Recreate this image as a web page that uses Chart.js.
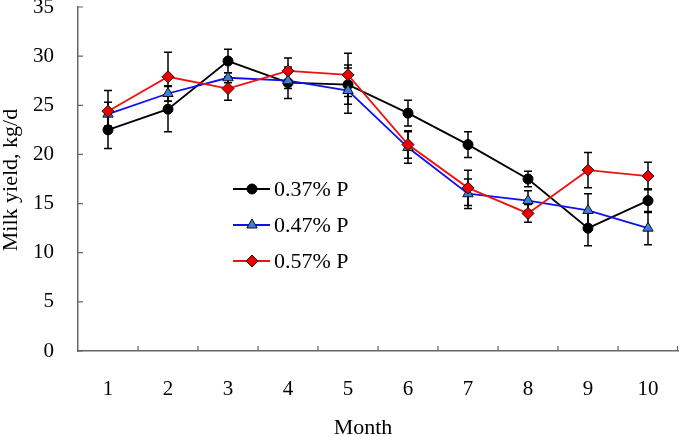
<!DOCTYPE html>
<html>
<head>
<meta charset="utf-8">
<script src="https://cdn.jsdelivr.net/npm/chart.js@4.4.0/dist/chart.umd.min.js"></script>
<style>
  html, body { margin: 0; padding: 0; background: #fff; }
  canvas { display: block; }
</style>
</head>
<body>
<canvas id="graphique" width="685" height="436"></canvas>
<script>
// Données
const mois = ['1', '2', '3', '4', '5', '6', '7', '8', '9', '10'];
const p037 = [22.5, 24.6, 29.5, 27.3, 27.1, 24.2, 21.0, 17.5, 12.5, 15.3];
const p047 = [24.1, 26.2, 27.8, 27.5, 26.5, 20.7, 16.0, 15.3, 14.3, 12.5];
const p057 = [24.4, 27.9, 26.7, 28.5, 28.1, 21.0, 16.6, 14.0, 18.4, 17.8];
const err037 = [1.9, 2.3, 1.2, 1.6, 2.0, 1.3, 1.3, 0.8, 1.8, 1.2];
const err047 = [1.2, 0.8, 0.5, 0.8, 2.3, 1.6, 1.5, 1.0, 1.7, 1.7];
const err057 = [2.1, 2.5, 1.2, 1.3, 2.2, 1.4, 1.8, 0.9, 1.8, 1.4];
const yTicks = [0, 5, 10, 15, 20, 25, 30, 35];

const police = 'Liberation Serif';
const couleurAxe = '#666666';

// Barres d'erreur, traits des axes et titres
const pluginFigure = {
  id: 'figure',
  beforeDatasetsDraw(chart) {
    const ctx = chart.ctx;
    const x = chart.scales.x;
    const y = chart.scales.y;
    const erreurs = [err037, err047, err057];
    ctx.save();
    ctx.strokeStyle = '#000';
    ctx.lineWidth = 1.5;
    chart.data.datasets.forEach(function(ds, k) {
      ds.data.forEach(function(v, i) {
        const px = x.getPixelForValue(i);
        const haut = y.getPixelForValue(v + erreurs[k][i]);
        const bas = y.getPixelForValue(v - erreurs[k][i]);
        ctx.beginPath();
        ctx.moveTo(px, haut); ctx.lineTo(px, bas);
        ctx.moveTo(px - 4, haut); ctx.lineTo(px + 4, haut);
        ctx.moveTo(px - 4, bas); ctx.lineTo(px + 4, bas);
        ctx.stroke();
      });
    });
    ctx.restore();
  },
  afterDraw(chart) {
    const ctx = chart.ctx;
    const x = chart.scales.x;
    const y = chart.scales.y;
    const zone = chart.chartArea;
    ctx.save();
    // petits traits vers l'intérieur
    ctx.strokeStyle = couleurAxe;
    ctx.lineWidth = 1.2;
    ctx.beginPath();
    yTicks.forEach(function(t) {
      const py = y.getPixelForValue(t);
      ctx.moveTo(zone.left, py); ctx.lineTo(zone.left + 5, py);
    });
    for (let i = 0; i < mois.length; i++) {
      const px = (i < mois.length - 1)
        ? (x.getPixelForValue(i) + x.getPixelForValue(i + 1)) / 2
        : zone.right - 0.5;
      ctx.moveTo(px, zone.bottom); ctx.lineTo(px, zone.bottom - 5);
    }
    ctx.stroke();

    // titres des axes
    ctx.fillStyle = '#000';
    ctx.font = '22px "' + police + '"';
    ctx.textAlign = 'center';
    ctx.textBaseline = 'middle';
    ctx.fillText('Month', 363, 428);
    ctx.translate(11, 180);
    ctx.rotate(-Math.PI / 2);
    ctx.fillText('Milk yield, kg/d', 0, 0);
    ctx.restore();

    // légende dans la zone du graphique
    ctx.save();
    const lignes = [189, 225, 261];
    chart.data.datasets.forEach(function(ds, k) {
      const ly = lignes[k];
      ctx.strokeStyle = ds.borderColor;
      ctx.lineWidth = 1.8;
      ctx.beginPath();
      ctx.moveTo(233, ly); ctx.lineTo(270, ly);
      ctx.stroke();
      ctx.fillStyle = ds.pointBackgroundColor;
      ctx.strokeStyle = ds.pointBorderColor;
      ctx.lineWidth = ds.pointBorderWidth;
      Chart.helpers.drawPoint(ctx, {
        pointStyle: ds.pointStyle,
        radius: ds.pointRadius,
        rotation: 0,
        borderWidth: ds.pointBorderWidth
      }, 252, ly);
      ctx.fillStyle = '#000';
      ctx.font = '22px "' + police + '"';
      ctx.textAlign = 'left';
      ctx.textBaseline = 'middle';
      ctx.fillText(ds.label, 274, ly + 1);
    });
    ctx.restore();
  }
};

const ctx = document.getElementById('graphique').getContext('2d');
const monGraphique = new Chart(ctx, {
  type: 'line',
  data: {
    labels: mois,
    datasets: [
      {
        label: '0.37% P',
        data: p037,
        borderColor: '#000000',
        borderWidth: 1.8,
        pointStyle: 'circle',
        pointRadius: 5,
        pointBackgroundColor: '#000000',
        pointBorderColor: '#000000',
        pointBorderWidth: 1,
        order: 3
      },
      {
        label: '0.47% P',
        data: p047,
        borderColor: '#1010ee',
        borderWidth: 1.8,
        pointStyle: 'triangle',
        pointRadius: 6,
        pointBackgroundColor: '#3d7ddc',
        pointBorderColor: '#111111',
        pointBorderWidth: 1,
        order: 2
      },
      {
        label: '0.57% P',
        data: p057,
        borderColor: '#ee1111',
        borderWidth: 1.8,
        pointStyle: 'rectRot',
        pointRadius: 6,
        pointBackgroundColor: '#ee0000',
        pointBorderColor: '#111111',
        pointBorderWidth: 1,
        order: 1
      }
    ]
  },
  options: {
    responsive: false,
    animation: false,
    devicePixelRatio: 1,
    layout: { padding: { top: 7, right: 1, left: 0, bottom: 0 } },
    plugins: {
      legend: { display: false },
      tooltip: { enabled: false }
    },
    scales: {
      x: {
        type: 'category',
        offset: true,
        grid: { display: false },
        border: { display: true, color: couleurAxe, width: 1.5 },
        ticks: {
          color: '#000',
          padding: 18,
          maxRotation: 0,
          font: { family: police, size: 21 }
        },
        afterFit(scale) {
          scale.height = 85;
          scale.paddingLeft = 0;
          scale.paddingRight = 0;
        }
      },
      y: {
        min: 0,
        max: 35,
        grid: { display: false },
        border: { display: true, color: couleurAxe, width: 1.5 },
        afterBuildTicks(scale) {
          scale.ticks = yTicks.map(function(v) { return { value: v }; });
        },
        ticks: {
          color: '#000',
          padding: 16,
          font: { family: police, size: 21 }
        },
        afterFit(scale) {
          scale.width = 78;
          scale.paddingTop = 0;
          scale.paddingBottom = 0;
        }
      }
    }
  },
  plugins: [pluginFigure]
});
</script>
</body>
</html>
